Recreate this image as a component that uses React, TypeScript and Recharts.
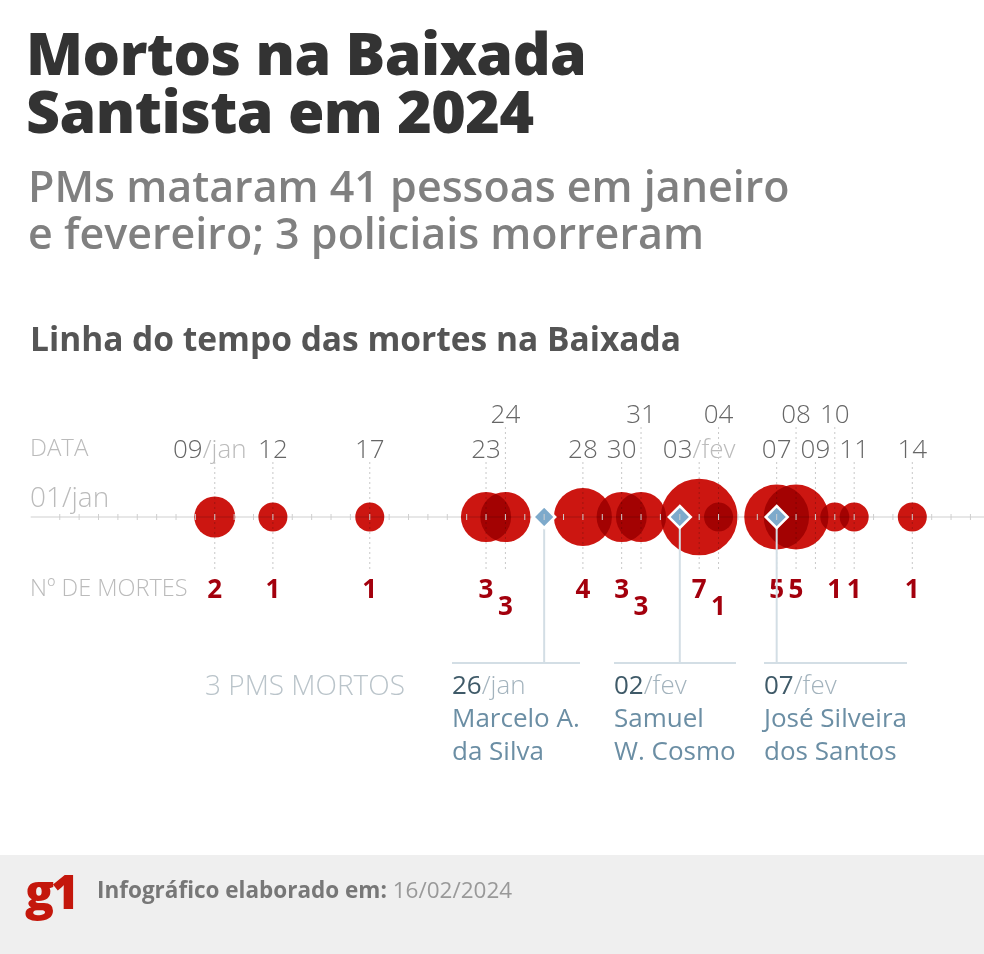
import React from "react";
import { ScatterChart, Scatter, XAxis, YAxis, ZAxis } from "recharts";

// dias contados a partir de 01/jan (fev = 31 + dia)
const timelineDays = Array.from({ length: 48 }, (_, i) => i + 1);

const eventDays = [9, 12, 17, 23, 24, 28, 30, 31, 34, 35, 38, 39, 40, 41, 42, 45];
const eventLabels = ["09/jan", "12", "17", "23", "24", "28", "30", "31", "03/fev", "04", "07", "08", "09", "10", "11", "14"];
const deathCounts = [2, 1, 1, 3, 3, 4, 3, 3, 7, 1, 5, 5, 0, 1, 1, 1];
const upperRow = [false, false, false, false, true, false, false, true, false, true, false, true, false, true, false, false];
const lowCount = [false, false, false, false, true, false, false, true, false, true, false, false, false, false, false, false];

const policeDays = [26, 33, 38];
const policeDates = ["26/jan", "02/fev", "07/fev"];
const policeNames = [
  ["Marcelo A.", "da Silva"],
  ["Samuel", "W. Cosmo"],
  ["José Silveira", "dos Santos"],
];

const events = eventDays.map((day, i) => ({
  day,
  y: 0,
  label: eventLabels[i],
  deaths: deathCounts[i],
  upper: upperRow[i],
  low: lowCount[i],
}));
const circles = events.filter((e) => e.deaths > 0);
const police = policeDays.map((day, i) => ({ day, y: 0, date: policeDates[i], names: policeNames[i] }));

const FONT = "'Open Sans', Lato, sans-serif";
const RED = "#cc1611";
const DARK_RED = "#a3000d";

function GuideShape(props: any) {
  const { cx, cy, payload } = props;
  const [num, month] = payload.label.split("/");
  const labelY = payload.upper ? cy - 104 : cy - 69;
  const lineTop = payload.upper ? cy - 90 : cy - 55;
  const countY = payload.low ? cy + 88 : cy + 71;
  // rótulo com mês fica levemente deslocado, como no original
  const labelX = month && payload.day < 20 ? cx - 5 : cx;
  return (
    <g>
      <line x1={cx} x2={cx} y1={lineTop} y2={cy + 52} stroke="#c8c8c8" strokeDasharray="2 3" />
      <text x={labelX} y={labelY} textAnchor="middle" dominantBaseline="central" fontFamily={FONT} fontWeight={300} fontSize={26}>
        <tspan fill="#666">{num}</tspan>
        {month ? <tspan fill="#bbb">/{month}</tspan> : null}
      </text>
      {payload.deaths > 0 ? (
        <text x={cx} y={countY} textAnchor="middle" dominantBaseline="central" fontFamily={FONT} fontWeight={700} fontSize={26} fill={DARK_RED}>
          {payload.deaths}
        </text>
      ) : null}
    </g>
  );
}

function CircleShape(props: any) {
  const { cx, cy, size, width } = props;
  const r = size ? Math.sqrt(size / Math.PI) : (width || 0) / 2;
  return <circle cx={cx} cy={cy} r={r} fill={RED} style={{ mixBlendMode: "multiply" }} />;
}

function DiamondShape(props: any) {
  const { cx, cy } = props;
  const h = 11;
  return (
    <g>
      <line x1={cx} x2={cx} y1={cy} y2={cy + 146} stroke="#d3dee5" strokeWidth={2} />
      <polygon
        points={`${cx},${cy - h} ${cx + h},${cy} ${cx},${cy + h} ${cx - h},${cy}`}
        fill="#7eaacb"
        stroke="#fff"
        strokeWidth={2.5}
      />
    </g>
  );
}

function DayTick(props: any) {
  const { x, y } = props;
  return <line x1={x} x2={x} y1={y - 3} y2={y + 3} stroke="#cfcfcf" />;
}

const leftLabel: React.CSSProperties = {
  position: "absolute",
  left: 30,
  fontFamily: FONT,
  fontWeight: 300,
  color: "#bbb",
  lineHeight: 1,
  whiteSpace: "nowrap",
};

const titleLine: React.CSSProperties = {
  position: "absolute",
  left: 26,
  fontSize: 59,
  fontWeight: 800,
  color: "#333",
  lineHeight: "56px",
  letterSpacing: -0.5,
  whiteSpace: "nowrap",
};

const subLine: React.CSSProperties = {
  position: "absolute",
  left: 28,
  fontSize: 43,
  fontWeight: 600,
  color: "#808080",
  lineHeight: "44px",
  whiteSpace: "nowrap",
};

export default function App() {
  return (
    <div style={{ position: "absolute", left: 0, top: 0, width: 984, height: 954, background: "#fff", overflow: "hidden", fontFamily: FONT }}>
      <div style={{ ...titleLine, top: 24 }}>Mortos na Baixada</div>
      <div style={{ ...titleLine, top: 82 }}>Santista em 2024</div>
      <div style={{ ...subLine, top: 164 }}>PMs mataram 41 pessoas em janeiro</div>
      <div style={{ ...subLine, top: 211 }}>e fevereiro; 3 policiais morreram</div>
      <div style={{ position: "absolute", left: 30, top: 318, fontSize: 33.5, fontWeight: 700, color: "#555", lineHeight: "40px", whiteSpace: "nowrap" }}>
        Linha do tempo das mortes na Baixada
      </div>

      <div style={{ ...leftLabel, top: 435, fontSize: 24 }}>DATA</div>
      <div style={{ ...leftLabel, top: 482, fontSize: 28 }}>01/jan</div>
      <div style={{ ...leftLabel, top: 576, fontSize: 23.5 }}>Nº DE MORTES</div>

      <div style={{ position: "absolute", left: 0, top: 380 }}>
        <ScatterChart width={984} height={440} margin={{ top: 80, right: 0, bottom: 273, left: 30.7 }}>
          <XAxis
            type="number"
            dataKey="day"
            domain={[-0.5, 48.7]}
            ticks={timelineDays}
            interval={0}
            tickSize={0}
            tickMargin={0}
            axisLine={{ stroke: "#cfcfcf" }}
            tickLine={false}
            tick={<DayTick />}
          />
          <YAxis type="number" dataKey="y" domain={[0, 1]} hide />
          <ZAxis type="number" dataKey="deaths" domain={[0, 7]} range={[0, 4620]} />
          <Scatter data={events} shape={<GuideShape />} isAnimationActive={false} />
          <Scatter data={circles} shape={<CircleShape />} isAnimationActive={false} />
          <Scatter data={police} shape={<DiamondShape />} isAnimationActive={false} />
        </ScatterChart>
      </div>

      <div style={{ position: "absolute", left: 205, top: 667, fontSize: 28, fontWeight: 300, color: "#bac4ca", lineHeight: "34px", whiteSpace: "nowrap" }}>
        3 PMS MORTOS
      </div>
      {police.map((p, i) => {
        const [num, month] = p.date.split("/");
        const left = [452, 614, 764][i];
        return (
          <div key={p.date} style={{ position: "absolute", left, top: 662, display: "inline-block", borderTop: "2px solid #d3dee5", whiteSpace: "nowrap", fontSize: 26, lineHeight: "33px", paddingTop: 4 }}>
            <div>
              <span style={{ color: "#3f5a68" }}>{num}</span>
              <span style={{ color: "#a3b3bd", fontWeight: 300 }}>/{month}</span>
            </div>
            {p.names.map((n) => (
              <div key={n} style={{ color: "#6b8ea4" }}>{n}</div>
            ))}
          </div>
        );
      })}

      <div style={{ position: "absolute", left: 0, top: 855, width: 984, height: 99, background: "#efefef" }}>
        <div style={{ position: "absolute", left: 25, top: 6, fontSize: 48, fontWeight: 800, color: "#c4170c", letterSpacing: -3, lineHeight: "60px" }}>
          g1
        </div>
        <div style={{ position: "absolute", left: 97, top: 21, fontSize: 22.5, lineHeight: "28px", whiteSpace: "nowrap" }}>
          <span style={{ color: "#777", fontWeight: 700 }}>Infográfico elaborado em: </span>
          <span style={{ color: "#999", fontWeight: 400 }}>16/02/2024</span>
        </div>
      </div>
    </div>
  );
}
